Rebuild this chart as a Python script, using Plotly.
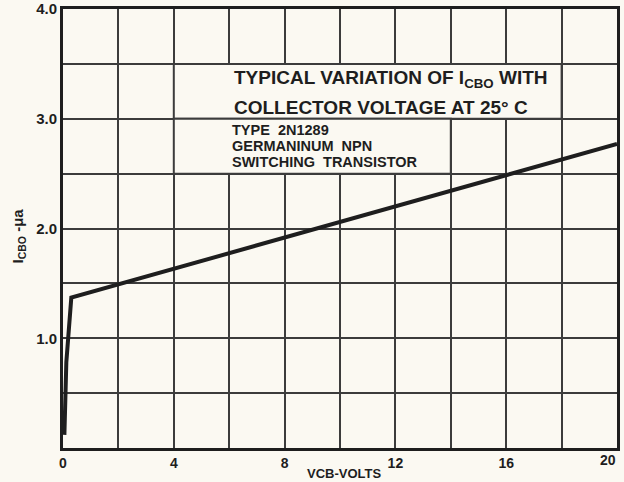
import plotly.graph_objects as go

# Data
vcb = [0.05, 0.08, 0.12, 0.3, 20.0]
icbo = [0.12, 0.45, 0.78, 1.37, 2.77]

x_ticks = [0, 2, 4, 6, 8, 10, 12, 14, 16, 18, 20]
x_labels = ["0", "", "4", "", "8", "", "12", "", "16", "", ""]
last_x_label = "20"
y_ticks = [0, 0.5, 1.0, 1.5, 2.0, 2.5, 3.0, 3.5, 4.0]
y_labels = ["", "", "1.0", "", "2.0", "", "3.0", "", "4.0"]

title_lines = ["TYPICAL VARIATION OF I<sub>CBO</sub> WITH", "COLLECTOR VOLTAGE AT 25° C"]
info_lines = ["TYPE  2N1289", "GERMANINUM  NPN", "SWITCHING  TRANSISTOR"]
x_title = "VCB-VOLTS"
y_title = "I<sub>CBO</sub> -μa"

BG = "#fbf9f2"
INK = "#1e1e1e"
GRID = "#3c3c3c"
FONT = "Liberation Sans"


def bfont(size):
    return dict(family=FONT, size=size, color=INK, weight="bold")


fig = go.Figure()
fig.add_trace(go.Scatter(x=vcb, y=icbo, mode="lines",
                         line=dict(color=INK, width=4), hoverinfo="skip"))

# boxes behind the title text (cover grid lines)
fig.add_shape(type="rect", xref="x", yref="y", x0=4, x1=18, y0=3.0, y1=3.5,
              fillcolor=BG, line=dict(color=GRID, width=2), layer="between")
fig.add_shape(type="rect", xref="x", yref="y", x0=4, x1=14, y0=2.5, y1=3.0,
              fillcolor=BG, line=dict(color=GRID, width=2), layer="between")

fig.add_annotation(x=6.1, y=3.36, xref="x", yref="y", text=title_lines[0],
                   showarrow=False, xanchor="left", yanchor="middle", font=bfont(19))
fig.add_annotation(x=6.1, y=3.107, xref="x", yref="y", text=title_lines[1],
                   showarrow=False, xanchor="left", yanchor="middle", font=bfont(19))
for i, t in enumerate(info_lines):
    fig.add_annotation(x=6.03, y=2.897 - i * 0.145, xref="x", yref="y", text=t,
                       showarrow=False, xanchor="left", yanchor="middle", font=bfont(14.5))

# last x tick label, kept inside the figure
fig.add_annotation(x=20, y=0, xref="x", yref="y", text=last_x_label, showarrow=False,
                   xanchor="right", yanchor="top", yshift=-2, xshift=1, font=bfont(14))
# axis titles
fig.add_annotation(x=0.5, y=0, xref="x domain", yref="y domain", text=x_title, showarrow=False,
                   xanchor="center", yanchor="middle", yshift=-25, xshift=4, font=bfont(13))
fig.add_annotation(x=0, y=0.5, xref="x domain", yref="y domain", text=y_title, showarrow=False,
                   xanchor="center", yanchor="middle", textangle=-90, xshift=-45, yshift=-8,
                   font=bfont(15))

fig.update_layout(
    width=624, height=482,
    margin=dict(l=63, r=7, t=9, b=34),
    paper_bgcolor=BG, plot_bgcolor=BG,
    showlegend=False,
    font=dict(family=FONT, color=INK),
)
fig.update_xaxes(range=[0, 20], tickvals=x_ticks, ticktext=x_labels, automargin=False,
                 showgrid=True, gridcolor=GRID, gridwidth=2,
                 showline=True, linecolor=INK, linewidth=3, mirror=True,
                 zeroline=False, ticks="", ticklen=0,
                 tickfont=bfont(14))
fig.update_yaxes(range=[0, 4], tickvals=y_ticks, ticktext=y_labels, automargin=False,
                 showgrid=True, gridcolor=GRID, gridwidth=2,
                 showline=True, linecolor=INK, linewidth=3, mirror=True,
                 zeroline=False, ticks="", ticklen=0,
                 tickfont=bfont(15))

fig.write_html("out.html", config={"displayModeBar": False},
               post_script="document.body.style.margin='0';document.body.style.background='%s';" % BG)
